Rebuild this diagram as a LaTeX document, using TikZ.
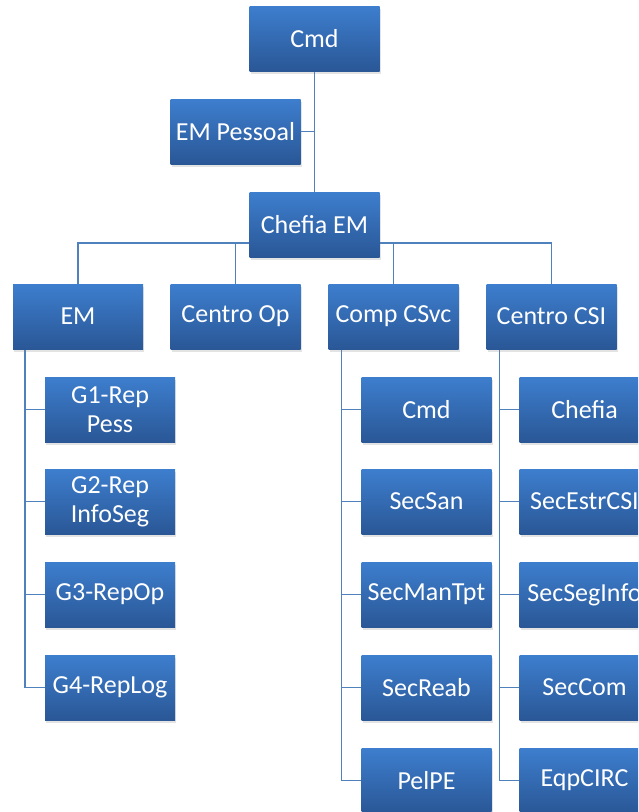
\documentclass[tikz,border=0pt]{standalone}
\usepackage{fontspec}
\setmainfont{Carlito}
\usetikzlibrary{shadows,backgrounds}
\definecolor{boxtop}{RGB}{61,126,206}
\definecolor{boxbot}{RGB}{42,87,150}
\definecolor{linkblue}{RGB}{79,129,189}
\begin{document}
\begin{tikzpicture}[x=1pt,y=-1pt,
	unit/.style={top color=boxtop,bottom color=boxbot,text=white,minimum width=130pt,minimum height=65pt,inner sep=0pt,align=center,font=\fontsize{26}{29}\selectfont,drop shadow={opacity=0.22,shadow xshift=1pt,shadow yshift=-2.5pt}},
	link/.style={draw=linkblue,line width=1.6pt}]
		\useasboundingbox (0,0) rectangle (638,812); %page size
		\clip (0,0) rectangle (638,812); %cut what runs off the page
		\node[unit] (cmd) at (314.5,38.5) {Cmd}; %top
		\node[unit] (pess) at (235.5,131.5) {EM Pessoal}; %staff
		\node[unit] (chefia) at (314.5,224.5) {Chefia EM}; %chief
		\node[unit] (em) at (78,316.5) {EM}; % second row
		\node[unit] (centroop) at (235.5,316.5) {Centro Op};
		\node[unit] (compcsvc) at (393.5,316.5) {Comp CSvc};
		\node[unit] (centrocsi) at (551.5,316.5) {Centro CSI};
		\node[unit] (gi) at (110,409.5) {G1-Rep\\Pess}; % EM column
		\node[unit] (gii) at (110,501.5) {G2-Rep\\InfoSeg};
		\node[unit] (giii) at (110,594.5) {G3-RepOp};
		\node[unit] (giv) at (110,687.5) {G4-RepLog};
		\node[unit] (scmd) at (426.5,409.5) {Cmd}; % Comp CSvc column
		\node[unit] (ssan) at (426.5,501.5) {SecSan};
		\node[unit] (sman) at (426.5,594.5) {SecManTpt};
		\node[unit] (sreab) at (426.5,687.5) {SecReab};
		\node[unit] (spel) at (426.5,780.5) {PelPE};
		\node[unit] (cchef) at (584.5,409.5) {Chefia}; % Centro CSI column
		\node[unit] (cestr) at (584.5,501.5) {SecEstrCSI};
		\node[unit] (cseg) at (584.5,594.5) {SecSegInfo};
		\node[unit] (ccom) at (584.5,687.5) {SecCom};
		\node[unit] (ceqp) at (584.5,780.5) {EqpCIRC};
		\begin{scope}[on background layer]
		\draw[link] (cmd) -- (chefia); %main trunk
		\draw[link] (pess.east) -- (pess.east -| cmd.south); %staff branch
		\coordinate (bus) at ([yshift=14pt]chefia.south); %y axis points down
		\draw[link] (chefia.south) -- (bus) -| (em.north); %bus to second row
		\draw[link] (bus) -| (centroop.north);
		\draw[link] (bus) -| (compcsvc.north);
		\draw[link] (bus) -| (centrocsi.north);
		\coordinate (emtrunk) at ([xshift=12pt]em.south west);
		\draw[link] (emtrunk) |- (gi.west); %EM children
		\draw[link] (emtrunk) |- (gii.west);
		\draw[link] (emtrunk) |- (giii.west);
		\draw[link] (emtrunk) |- (giv.west);
		\coordinate (svctrunk) at ([xshift=13pt]compcsvc.south west);
		\draw[link] (svctrunk) |- (scmd.west); %Comp CSvc children
		\draw[link] (svctrunk) |- (ssan.west);
		\draw[link] (svctrunk) |- (sman.west);
		\draw[link] (svctrunk) |- (sreab.west);
		\draw[link] (svctrunk) |- (spel.west);
		\coordinate (csitrunk) at ([xshift=13pt]centrocsi.south west);
		\draw[link] (csitrunk) |- (cchef.west); %Centro CSI children
		\draw[link] (csitrunk) |- (cestr.west);
		\draw[link] (csitrunk) |- (cseg.west);
		\draw[link] (csitrunk) |- (ccom.west);
		\draw[link] (csitrunk) |- (ceqp.west);
		\end{scope}
\end{tikzpicture}
\end{document}
